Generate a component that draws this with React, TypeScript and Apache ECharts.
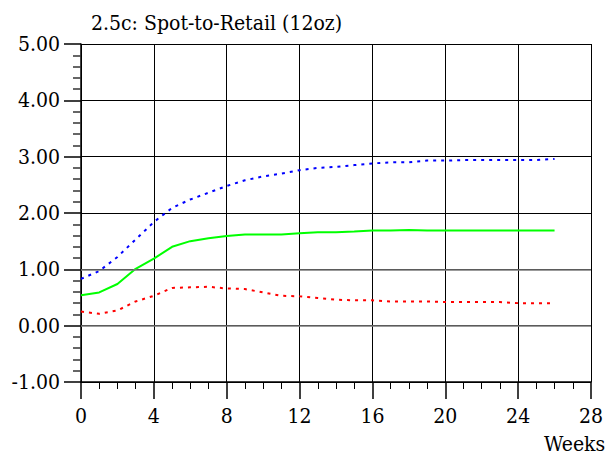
import React, { useEffect, useRef } from "react";
import * as echarts from "echarts";

const weeks = [0,1,2,3,4,5,6,7,8,9,10,11,12,13,14,15,16,17,18,19,20,21,22,23,24,25,26];
const blueSeries = [0.83,0.97,1.22,1.53,1.84,2.09,2.24,2.36,2.48,2.58,2.65,2.70,2.76,2.80,2.82,2.85,2.88,2.90,2.90,2.93,2.93,2.94,2.94,2.94,2.94,2.94,2.96];
const greenSeries = [0.54,0.59,0.74,1.01,1.19,1.40,1.50,1.55,1.59,1.62,1.62,1.62,1.64,1.66,1.66,1.67,1.69,1.69,1.70,1.69,1.69,1.69,1.69,1.69,1.69,1.69,1.69];
const redSeries = [0.25,0.21,0.27,0.43,0.53,0.67,0.68,0.69,0.66,0.65,0.59,0.53,0.52,0.49,0.46,0.45,0.45,0.43,0.43,0.43,0.42,0.42,0.42,0.42,0.40,0.40,0.40];
const titleText = "2.5c: Spot-to-Retail (12oz)";
const xAxisName = "Weeks";

const serif = "DejaVu Serif Condensed, DejaVu Serif";

export default function App() {
  const ref = useRef<HTMLDivElement>(null);
  useEffect(() => {
    document.body.style.margin = "0";
    const chart = echarts.init(ref.current!, null, { renderer: "svg" });
    const pairs = (arr: number[]) => weeks.map((w, i) => [w, arr[i]]);
    chart.setOption({
      animation: false,
      backgroundColor: "#fff",
      title: {
        text: titleText,
        left: 86,
        top: 7,
        textStyle: { fontFamily: serif, fontSize: 21, fontWeight: "normal", color: "#000" },
      },
      grid: { left: 81, right: 14, top: 44, bottom: 78, containLabel: false },
      xAxis: {
        type: "value",
        min: 0,
        max: 28,
        interval: 4,
        axisLine: { show: true, onZero: false, lineStyle: { color: "#000", width: 1.5 } },
        axisTick: { show: true, length: 17, lineStyle: { color: "#000", width: 1.5 } },
        minorTick: { show: true, splitNumber: 4, length: 7, lineStyle: { color: "#000", width: 1 } },
        axisLabel: { fontFamily: serif, fontSize: 21, color: "#000", margin: 23 },
        splitLine: { show: true, lineStyle: { color: "#000", width: 1 } },
      },
      yAxis: {
        type: "value",
        min: -1,
        max: 5,
        interval: 1,
        axisLine: { show: true, onZero: false, lineStyle: { color: "#000", width: 1.5 } },
        axisTick: { show: true, length: 17, lineStyle: { color: "#000", width: 1.5 } },
        minorTick: { show: true, splitNumber: 5, length: 8, lineStyle: { color: "#333", width: 1.5 } },
        axisLabel: {
          fontFamily: serif,
          fontSize: 21,
          color: "#000",
          margin: 21,
          formatter: (v: number) => v.toFixed(2),
        },
        splitLine: { show: true, lineStyle: { color: "#000", width: 1 } },
      },
      graphic: [
        {
          type: "text",
          left: 544,
          top: 433,
          style: { text: xAxisName, fontFamily: serif, fontSize: 21, fill: "#000" },
        },
      ],
      series: [
        {
          type: "line",
          data: pairs(blueSeries),
          showSymbol: false,
          lineStyle: { color: "#0000ff", width: 2, type: [3, 5] },
          markLine: {
            silent: true,
            symbol: "none",
            label: { show: false },
            lineStyle: { color: "#7a7a7a", width: 1.5, type: "solid" },
            data: [{ yAxis: 0 }, { yAxis: 1 }],
          },
          z: 3,
        },
        {
          type: "line",
          data: pairs(greenSeries),
          showSymbol: false,
          lineStyle: { color: "#00ff00", width: 2, type: "solid" },
          z: 3,
        },
        {
          type: "line",
          data: pairs(redSeries),
          showSymbol: false,
          lineStyle: { color: "#ff0000", width: 2, type: [3, 5] },
          z: 3,
        },
      ],
    });
    return () => chart.dispose();
  }, []);
  return <div ref={ref} style={{ width: 606, height: 460 }} />;
}
